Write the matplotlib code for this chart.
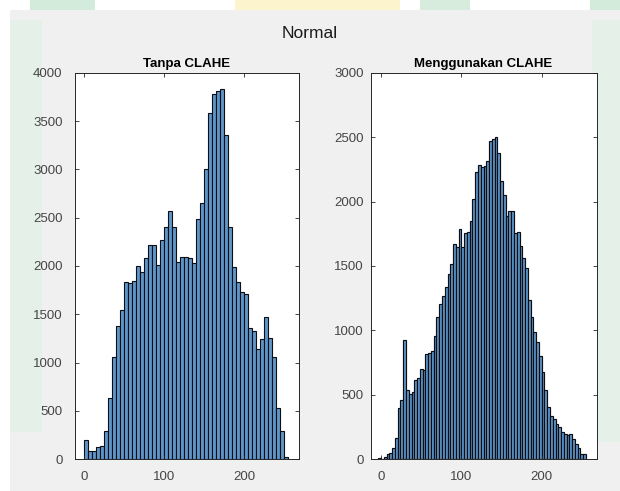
import numpy as np
import matplotlib
matplotlib.use("Agg")
import matplotlib.pyplot as plt
from matplotlib.patches import Rectangle

plt.rcParams['font.family'] = ['Liberation Sans', 'DejaVu Sans']

# Histogram tanpa CLAHE (lebar bin 5)
edges_a = np.arange(0, 256, 5)
counts_a = [200, 80, 80, 120, 130, 290, 630, 1060, 1380, 1540,
            1830, 1820, 1845, 2000, 1935, 2085, 2215, 2215, 2010, 2265,
            2405, 2575, 2405, 2040, 2095, 2095, 2085, 2035, 2485, 2655,
            3000, 3590, 3780, 3815, 3830, 3355, 2405, 1985, 1835, 1735,
            1705, 1360, 1325, 1135, 1245, 1470, 1250, 1060, 525, 290, 20]

# Histogram menggunakan CLAHE (75 bin)
edges_b = np.linspace(-3, 255, 76)
counts_b = [8, 3, 18, 36, 50, 85, 165, 400, 460, 925,
            533, 508, 520, 611, 631, 701, 693, 817, 825, 843,
            959, 1100, 1204, 1268, 1338, 1441, 1518, 1673, 1647, 1784,
            1647, 1758, 1765, 1853, 2023, 2229, 2286, 2273, 2281, 2317,
            2472, 2487, 2505, 2376, 2157, 2054, 1887, 1925, 1925, 1760,
            1765, 1655, 1559, 1487, 1235, 1100, 985, 907, 804, 675,
            534, 405, 332, 314, 271, 250, 211, 191, 186, 191,
            152, 113, 82, 39, 39]

yticks_a = np.arange(0, 4001, 500)
yticks_b = np.arange(0, 3001, 500)
xticks = [0, 100, 200]

fig = plt.figure(figsize=(6.2, 4.91), dpi=100, facecolor='white')

# latar abu-abu ala MATLAB + sedikit warna watermark
fig.add_artist(Rectangle((10/620, 0), 1, 1 - 10/491, transform=fig.transFigure,
                         facecolor='#f0f0f0', edgecolor='none', zorder=-10))
for x0, x1, c in [(30, 95, '#d3ebdb'), (235, 400, '#fbf4cc'), (420, 470, '#d8ecde'), (590, 620, '#d3ebdb')]:
    fig.add_artist(Rectangle((x0/620, 1 - 10/491), (x1 - x0)/620, 10/491, transform=fig.transFigure,
                             facecolor=c, edgecolor='none', zorder=-9))
fig.add_artist(Rectangle((10/620, 0.12), 32/620, 0.86 - 10/491, transform=fig.transFigure,
                         facecolor='#e4f0e8', edgecolor='none', zorder=-9))
fig.add_artist(Rectangle((592/620, 0.1), 28/620, 0.88 - 10/491, transform=fig.transFigure,
                         facecolor='#e4f0e8', edgecolor='none', zorder=-9))

ax1 = fig.add_axes([75/620, 1 - 459/491, 224/620, 386/491])
ax2 = fig.add_axes([370.5/620, 1 - 459/491, 226/620, 386/491])

face = (0.37, 0.59, 0.79)
for ax, edges, counts, yt, title, lw in [(ax1, edges_a, counts_a, yticks_a, 'Tanpa CLAHE', 0.8),
                                         (ax2, edges_b, counts_b, yticks_b, 'Menggunakan CLAHE', 0.85)]:
    ax.bar(edges[:-1], counts, width=np.diff(edges), align='edge',
           color=face, edgecolor='#0d0d14', linewidth=lw)
    ax.set_ylim(0, yt[-1])
    ax.set_yticks(yt)
    ax.set_xticks(xticks)
    ax.set_title(title, fontsize=9.5, fontweight='bold', pad=4)
    ax.tick_params(direction='in', length=3, width=0.6, top=True, right=True,
                   labelsize=9.5, colors='#262626', labelcolor='#454545')
    ax.tick_params(axis='x', pad=9)
    for s in ax.spines.values():
        s.set_color('#262626')
        s.set_linewidth(0.7)
    ax.set_facecolor('white')

ax1.tick_params(axis='y', pad=9)
ax2.tick_params(axis='y', pad=5)
ax1.set_xlim(-11.25, 268.75)
ax2.set_xlim(-12.7, 268)

fig.text(0.5, 1 - 33/491, 'Normal', ha='center', va='center', fontsize=12.5, color='#1a1a1a')

fig.savefig('out.png', dpi=100, facecolor=fig.get_facecolor())
